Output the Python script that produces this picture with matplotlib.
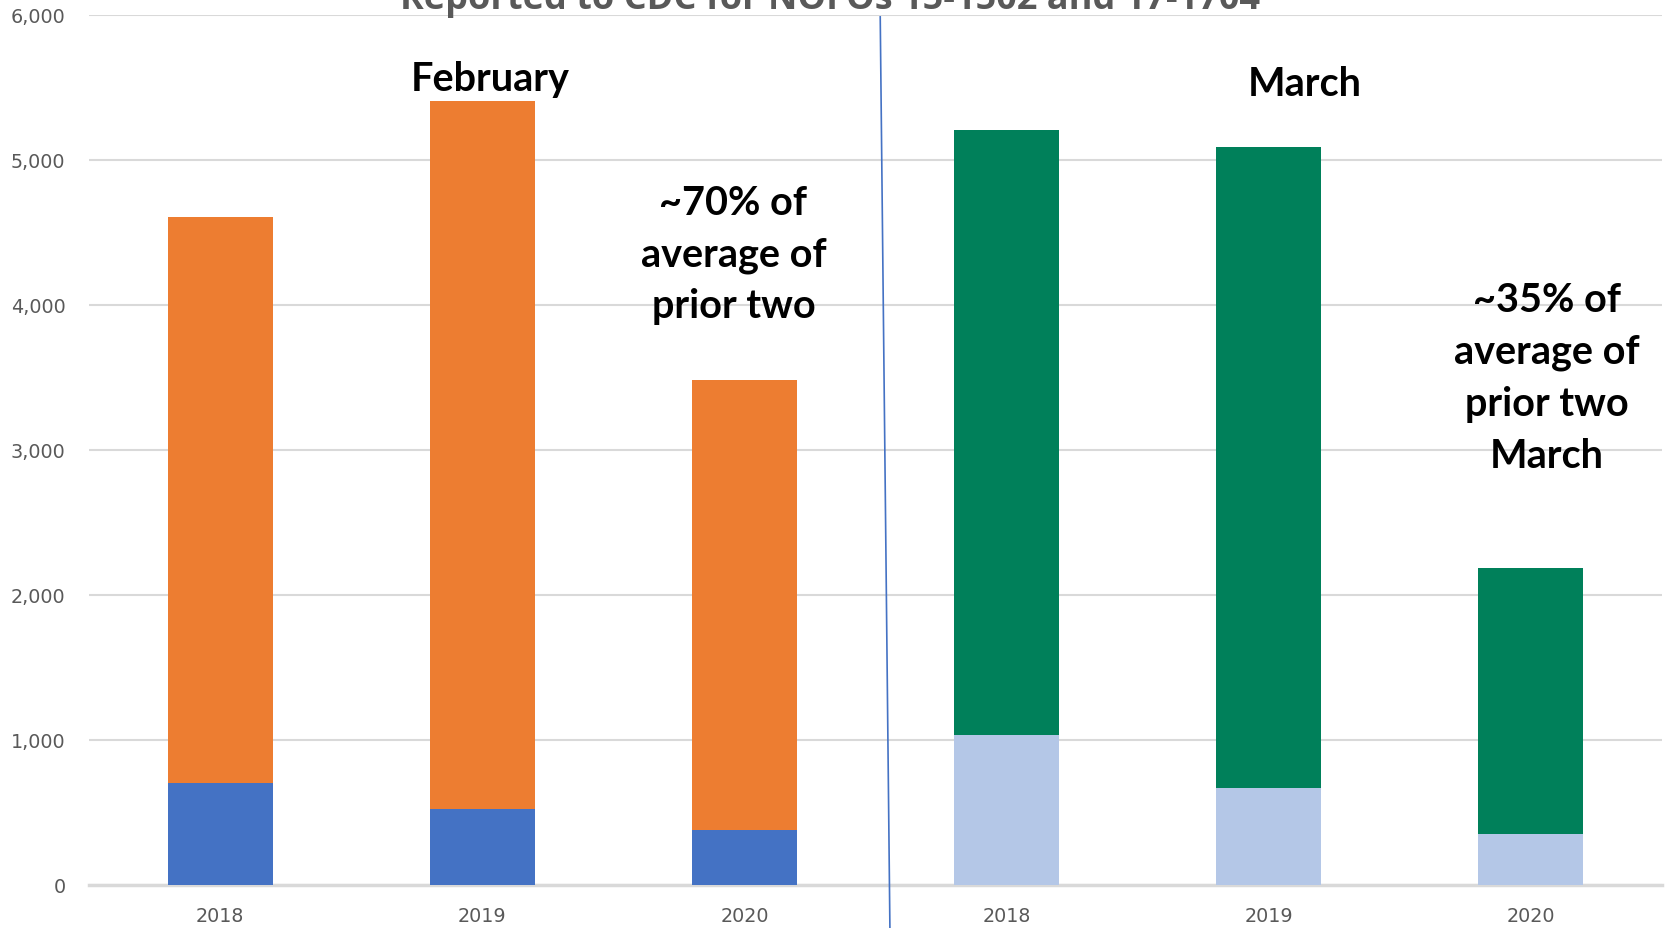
import matplotlib
matplotlib.use("Agg")
from matplotlib import pyplot as plt

years = ["2018", "2019", "2020", "2018", "2019", "2020"]
lower_values = [704, 521, 374, 1034, 667, 352]
total_values = [4606, 5406, 3484, 5208, 5091, 2186]
lower_colors = ["#4472C4"] * 3 + ["#B4C7E7"] * 3
upper_colors = ["#ED7D31"] * 3 + ["#00805A"] * 3

upper_values = [t - b for t, b in zip(total_values, lower_values)]


def plot_reports():
    fig = plt.figure(figsize=(16.67, 9.29), dpi=100)
    ax = fig.add_axes([0.0534, 0.0466, 0.9436, 0.9365])
    x = list(range(len(years)))

    ax.bar(x, lower_values, width=0.4, color=lower_colors, zorder=3)
    ax.bar(x, upper_values, bottom=lower_values, width=0.4, color=upper_colors, zorder=3)

    ax.set_xlim(-0.5, 5.5)
    ax.set_ylim(0, 6000)
    ax.set_yticks(range(0, 6001, 1000))
    ax.set_yticklabels([f"{v:,}" for v in range(0, 6001, 1000)])
    ax.set_xticks(x)
    ax.set_xticklabels(years)
    ax.tick_params(axis="both", length=0, labelsize=13.8, labelcolor="#595959")
    ax.tick_params(axis="x", pad=15)
    ax.tick_params(axis="y", pad=17)

    ax.grid(axis="y", color="#D9D9D9", linewidth=1.5, zorder=0)
    for side in ["top", "right", "left"]:
        ax.spines[side].set_visible(False)
    ax.spines["bottom"].set_color("#D9D9D9")
    ax.spines["bottom"].set_linewidth(2.5)

    # divider between months
    ax.plot([2.518, 2.555], [5985, -310], color="#4472C4", linewidth=1.2,
            clip_on=False, zorder=4)

    font = dict(family="Lato", fontweight="bold", color="black", ha="center", va="center")
    ax.text(1.03, 5560, "February", fontsize=28.5, **font)
    ax.text(4.137, 5525, "March", fontsize=28.5, **font)
    ax.text(1.958, 4350, "~70% of\naverage of\nprior two", fontsize=28.5,
            linespacing=1.49, **font)
    ax.text(5.062, 3499, "~35% of\naverage of\nprior two\nMarch", fontsize=28.5,
            linespacing=1.49, **font)

    fig.text(0.498, 1 - 9 / 929, "Reported to CDC for NOFOs 15-1502 and 17-1704",
             fontsize=26, fontweight="bold", family="Open Sans", color="#595959",
             ha="center", va="baseline")

    fig.savefig("out.png", dpi=100)


if __name__ == "__main__":
    plot_reports()
